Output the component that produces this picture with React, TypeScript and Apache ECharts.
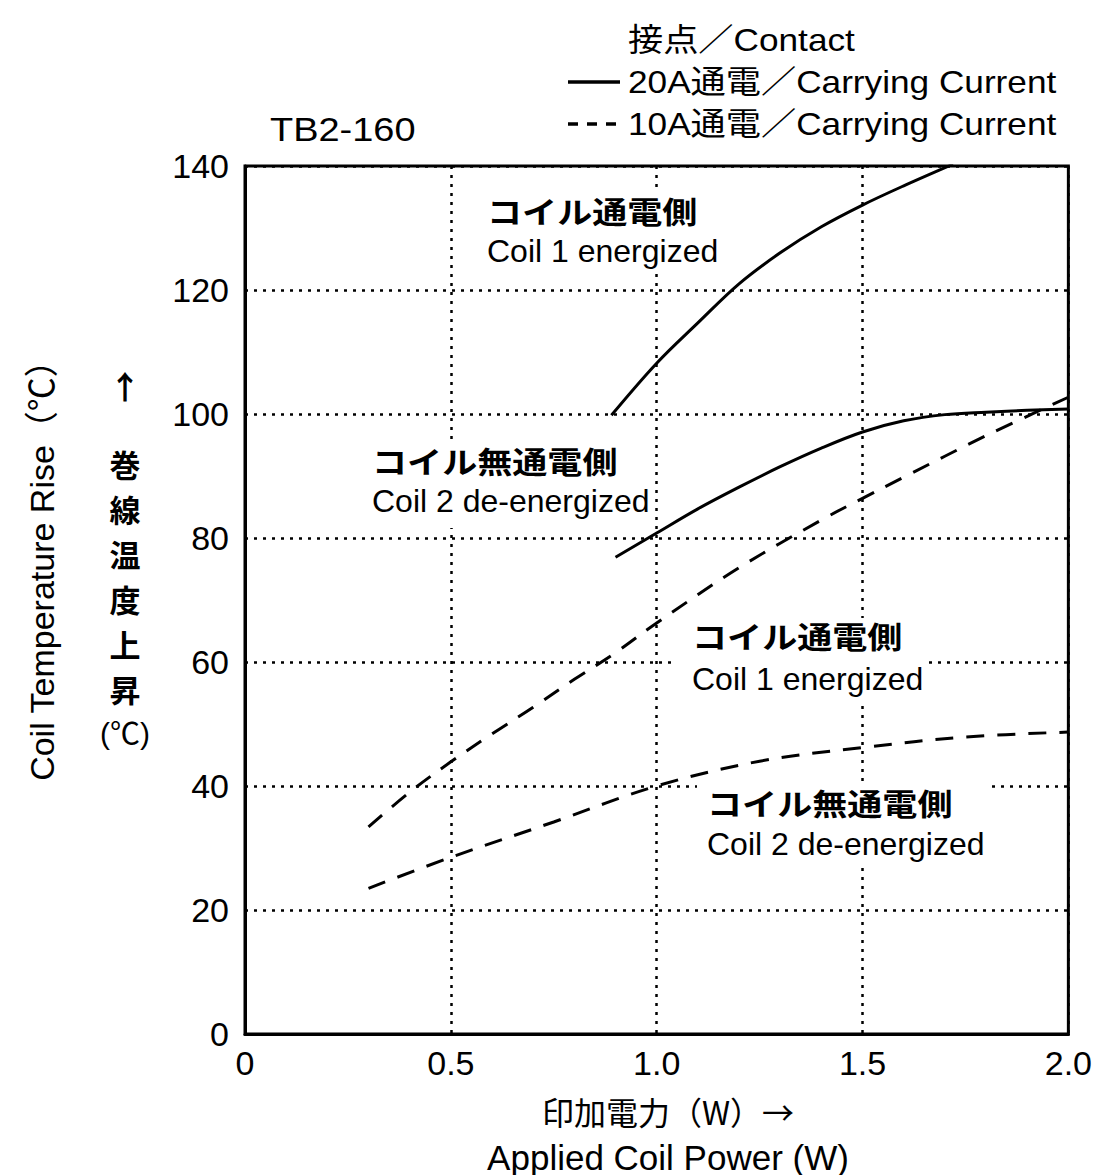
import React, { useEffect, useRef } from "react";
import * as echarts from "echarts";

// ---- data ----
const xTicks = [0, 0.5, 1.0, 1.5, 2.0];
const yTicks = [0, 20, 40, 60, 80, 100, 120, 140];

// 20A carrying current (solid)
const coil1_20A: [number, number][] = [
  [0.89, 99.8], [1.0, 108.2], [1.1, 114.7], [1.2, 121.0], [1.3, 126.0],
  [1.4, 130.2], [1.5, 133.7], [1.6, 136.8], [1.72, 140.3],
];
const coil2_20A: [number, number][] = [
  [0.9, 76.9], [1.0, 80.8], [1.1, 84.7], [1.2, 88.2], [1.3, 91.5], [1.4, 94.5],
  [1.5, 97.1], [1.6, 98.9], [1.7, 99.9], [1.8, 100.3], [1.9, 100.6], [2.0, 100.8],
];
// 10A carrying current (dashed)
const coil1_10A: [number, number][] = [
  [0.3, 33.4], [0.4, 39.0], [0.5, 43.9], [0.6, 48.4], [0.7, 52.7], [0.8, 57.2],
  [0.9, 61.5], [1.0, 66.3], [1.2, 75.2], [1.4, 82.9], [1.5, 86.4], [1.6, 89.8],
  [1.8, 96.5], [2.0, 102.7],
];
const coil2_10A: [number, number][] = [
  [0.3, 23.5], [0.5, 28.5], [0.75, 34.2], [1.0, 40.0], [1.25, 44.0],
  [1.5, 46.2], [1.75, 47.9], [2.0, 48.7],
];

const title = "TB2-160";
const legendHead = "接点／Contact";
const legend20 = "20A通電／Carrying Current";
const legend10 = "10A通電／Carrying Current";
const yTitleEn = "Coil Temperature Rise（℃）";
const yTitleJa = ["巻", "線", "温", "度", "上", "昇"];
const xTitleJa = "印加電力（W）→";
const xTitleEn = "Applied Coil Power (W)";
const labelEnergizedJa = "コイル通電側";
const labelEnergizedEn = "Coil 1 energized";
const labelDeenergizedJa = "コイル無通電側";
const labelDeenergizedEn = "Coil 2 de-energized";

const FONT = "'Liberation Sans', Arial, Helvetica, 'Noto Sans CJK JP', sans-serif";
const JFONT = "'Noto Sans CJK JP', sans-serif";

export default function App() {
  const ref = useRef<HTMLDivElement>(null);
  useEffect(() => {
    if (!ref.current) return;
    const chart = echarts.init(ref.current, undefined, { renderer: "svg" });

    const txt = (x: number, y: number, text: string, size: number, opts: any = {}) => ({
      type: "text",
      x,
      y,
      z: 10,
      ...(opts.rotation !== undefined ? { rotation: opts.rotation } : {}),
      ...(opts.scaleX !== undefined ? { scaleX: opts.scaleX } : {}),
      style: {
        text,
        fill: "#000",
        font: `${opts.bold ? "bold " : ""}${size}px ${opts.font || FONT}`,
        textAlign: opts.align || "left",
        textVerticalAlign: "middle",
        ...(opts.style || {}),
      },
    });
    const box = (x: number, y: number, w: number, h: number) => ({
      type: "rect",
      z: 5,
      shape: { x, y, width: w, height: h },
      style: { fill: "#fff" },
    });

    const lineSeries = (name: string, data: [number, number][], dashed: boolean) => ({
      name,
      type: "line",
      data,
      smooth: 0.35,
      showSymbol: false,
      symbol: "none",
      clip: true,
      z: 8,
      lineStyle: { color: "#000", width: 3, type: dashed ? [18, 13] : "solid" },
    });

    const jaLabel = (x: number, y: number, t: string) =>
      txt(x, y, t, 30, { font: JFONT, bold: true, scaleX: 1.17 });

    chart.setOption({
      animation: false,
      backgroundColor: "#fff",
      grid: {
        left: 245,
        top: 166,
        right: 22,
        bottom: 141,
        show: true,
        borderColor: "#000",
        borderWidth: 3,
        containLabel: false,
      },
      xAxis: {
        type: "value",
        min: xTicks[0],
        max: xTicks[xTicks.length - 1],
        interval: 0.5,
        axisLine: { show: true, lineStyle: { color: "#000", width: 3 } },
        axisTick: { show: false },
        axisLabel: {
          color: "#000",
          fontFamily: FONT,
          fontSize: 34,
          margin: 12,
          formatter: (v: number) => (v === 0 ? "0" : v.toFixed(1)),
        },
        splitLine: { show: true, lineStyle: { color: "#000", width: 2.5, type: [3, 6] } },
      },
      yAxis: {
        type: "value",
        min: yTicks[0],
        max: yTicks[yTicks.length - 1],
        interval: 20,
        axisLine: { show: true, lineStyle: { color: "#000", width: 3 } },
        axisTick: { show: false },
        axisLabel: { color: "#000", fontFamily: FONT, fontSize: 34, margin: 16 },
        splitLine: { show: true, lineStyle: { color: "#000", width: 2.5, type: [3, 6] } },
      },
      series: [
        lineSeries("coil1_20A", coil1_20A, false),
        lineSeries("coil2_20A", coil2_20A, false),
        lineSeries("coil1_10A", coil1_10A, true),
        lineSeries("coil2_10A", coil2_10A, true),
      ],
      graphic: [
        // title
        txt(270, 130, title, 33, { scaleX: 1.15 }),
        // legend
        txt(628, 40, legendHead, 32, { scaleX: 1.1 }),
        {
          type: "line",
          z: 10,
          shape: { x1: 568, y1: 82, x2: 620, y2: 82 },
          style: { stroke: "#000", lineWidth: 3.5 },
        },
        {
          type: "line",
          z: 10,
          shape: { x1: 568, y1: 124, x2: 622, y2: 124 },
          style: { stroke: "#000", lineWidth: 3.5, lineDash: [10, 9] },
        },
        txt(628, 82, legend20, 32, { scaleX: 1.1 }),
        txt(628, 124, legend10, 32, { scaleX: 1.1 }),
        // y titles
        txt(42, 562, yTitleEn, 34, { align: "center", rotation: Math.PI / 2 }),
        txt(125, 385, "↑", 32, { align: "center", font: JFONT, bold: true }),
        txt(125, 576, yTitleJa.join("\n"), 31, {
          align: "center",
          font: JFONT,
          bold: true,
          style: { lineHeight: 45 },
        }),
        txt(125, 733, "(℃)", 30, { align: "center" }),
        // x titles
        txt(668, 1111, xTitleJa, 32, { align: "center", font: JFONT }),
        txt(668, 1157, xTitleEn, 35, { align: "center" }),
        // curve annotations with white boxes
        box(480, 193, 240, 77),
        jaLabel(487, 210, labelEnergizedJa),
        txt(487, 251, labelEnergizedEn, 32),
        box(366, 440, 285, 88),
        jaLabel(372, 460, labelDeenergizedJa),
        txt(372, 501, labelDeenergizedEn, 32),
        box(673, 618, 250, 82),
        jaLabel(692, 635, labelEnergizedJa),
        txt(692, 679, labelEnergizedEn, 32),
        box(697, 782, 291, 84),
        jaLabel(707, 802, labelDeenergizedJa),
        txt(707, 844, labelDeenergizedEn, 32),
      ],
    });
    return () => chart.dispose();
  }, []);
  return (
    <div
      ref={ref}
      style={{ position: "absolute", left: 0, top: 0, width: 1095, height: 1175 }}
    />
  );
}
